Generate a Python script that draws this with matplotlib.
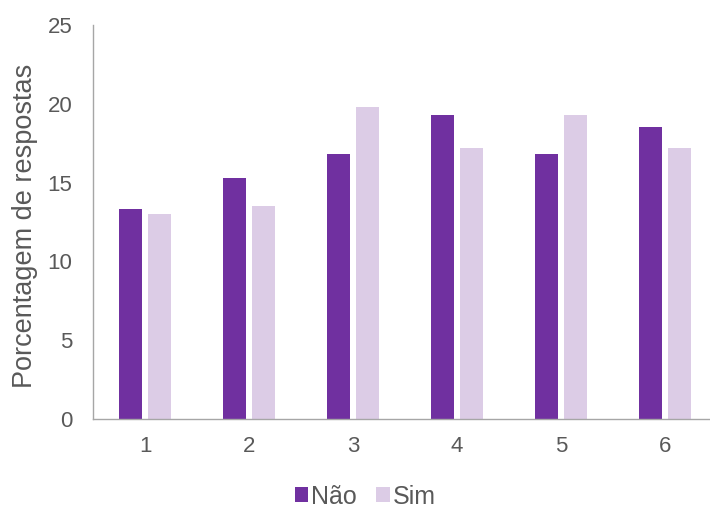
import matplotlib
matplotlib.use("Agg")
import matplotlib.pyplot as plt
import numpy as np

categories = ["1", "2", "3", "4", "5", "6"]
nao = [13.3, 15.3, 16.8, 19.3, 16.8, 18.5]
sim = [13.0, 13.5, 19.8, 17.2, 19.3, 17.2]
series_names = ["Não", "Sim"]
colors = ["#7030A0", "#DCCCE6"]
y_ticks = [0, 5, 10, 15, 20, 25]

plt.rcParams["font.family"] = ["Liberation Sans", "DejaVu Sans"]
text_color = "#595959"

fig = plt.figure(figsize=(7.1, 5.08), dpi=100)
ax = fig.add_axes([92.5 / 710, 89 / 508, 1 - 92.5 / 710, 394 / 508])

x = np.arange(1, len(categories) + 1)
w = 0.22
off = 0.142
ax.bar(x - off, nao, width=w, color=colors[0], label=series_names[0])
ax.bar(x + off, sim, width=w, color=colors[1], label=series_names[1])

ax.set_xlim(0.495, 0.495 + 617.5 / 104)
ax.set_ylim(0, 25)
ax.set_yticks(y_ticks)
ax.set_xticks(x)
ax.set_xticklabels(categories)

for s in ["top", "right"]:
    ax.spines[s].set_visible(False)
for s in ["left", "bottom"]:
    ax.spines[s].set_color("#A6A6A6")
    ax.spines[s].set_linewidth(1.0)

ax.tick_params(axis="both", length=0, labelsize=16, colors=text_color)
ax.tick_params(axis="y", pad=14.5)
ax.tick_params(axis="x", pad=12.5)

ax.set_ylabel("Porcentagem de respostas", fontsize=19.5, color=text_color)
ax.yaxis.set_label_coords(-55 / 617.5, 0.49)

fig.legend(loc="center", bbox_to_anchor=(365 / 710, 1 - 496.5 / 508),
           ncol=2, frameon=False, fontsize=18, handlelength=0.55,
           handleheight=0.55, handletextpad=0.12, columnspacing=0.75,
           labelcolor=text_color, borderpad=0.2)

fig.savefig("out.png", dpi=100)
